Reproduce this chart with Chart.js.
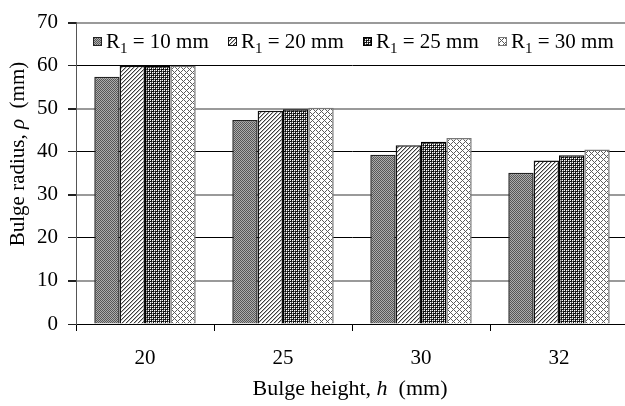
<!DOCTYPE html>
<html>
<head>
<meta charset="utf-8">
<script src="https://cdn.jsdelivr.net/npm/chart.js@4.4.1/dist/chart.umd.min.js"></script>
<style>
  body { margin: 0; width: 625px; height: 406px; overflow: hidden; position: relative; background: #fff; }
  #legend { position: absolute; left: 93px; top: 29px; display: flex; font-family: 'Liberation Serif', serif; font-size: 21px; color: #000; line-height: 24px; }
  #legend .item { width: 135px; display: flex; align-items: center; white-space: nowrap; }
  #legend canvas { margin-right: 4px; }
  #legend sub { font-size: 15px; vertical-align: -5px; line-height: 0; }
</style>
</head>
<body>
<canvas id="chart" width="628" height="406"></canvas>
<div id="legend"></div>
<script>
var heights = ['20', '25', '30', '32'];
var r1Names = ['10', '20', '25', '30'];
var r10 = [57.4, 47.4, 39.3, 35.1];
var r20 = [60.0, 49.5, 41.5, 38.0];
var r25 = [60.0, 49.9, 42.3, 39.2];
var r30 = [60.0, 50.2, 43.2, 40.5];

var serif = 'Liberation Serif';

// small pixel tiles for the hatch fills
function makeTile(size, bg, pixel) {
  var c = document.createElement('canvas');
  c.width = size; c.height = size;
  var g = c.getContext('2d');
  g.fillStyle = bg;
  g.fillRect(0, 0, size, size);
  for (var x = 0; x < size; x++) {
    for (var y = 0; y < size; y++) {
      var col = pixel(x, y);
      if (col) { g.fillStyle = col; g.fillRect(x, y, 1, 1); }
    }
  }
  return c;
}

var tiles = [
  makeTile(2, '#adadad', function(x, y) { return (x + y) % 2 == 0 ? '#575757' : null; }),
  makeTile(4, '#ffffff', function(x, y) {
    var k = (x + y) % 4;
    return k == 0 ? '#3a3a3a' : (k == 1 ? '#b8b8b8' : null);
  }),
  makeTile(4, '#111111', function(x, y) {
    return (x % 2 == 0 && y % 2 == 0) ? '#ffffff' : ((x + y) % 4 == 1 ? '#7a7a7a' : null);
  }),
  makeTile(6, '#ffffff', function(x, y) {
    return ((x - y + 6) % 6 == 0 || (x + y) % 6 == 0) ? '#5c5c5c' : null;
  })
];
var borders = ['#222', '#111', '#000', '#777'];

var ctx = document.getElementById('chart').getContext('2d');
var patterns = tiles.map(function(t) { return ctx.createPattern(t, 'repeat'); });

function drawMixed(g, parts, size, cx, cy, rot) {
  g.save();
  g.translate(cx, cy);
  g.rotate(rot);
  g.textBaseline = 'middle';
  g.fillStyle = '#000';
  var total = 0;
  parts.forEach(function(p) {
    g.font = (p[1] ? 'italic ' : '') + size + 'px "' + serif + '"';
    p.w = g.measureText(p[0]).width;
    total += p.w;
  });
  var x = -total / 2;
  parts.forEach(function(p) {
    g.font = (p[1] ? 'italic ' : '') + size + 'px "' + serif + '"';
    g.fillText(p[0], x, 0);
    x += p.w;
  });
  g.restore();
}

var axisTitles = {
  id: 'axisTitles',
  afterDraw: function(chart) {
    var a = chart.chartArea;
    drawMixed(chart.ctx, [['Bulge height, ', false], ['h', true], ['  (mm)', false]], 22, (a.left + a.right) / 2 - 2, 389, 0);
    drawMixed(chart.ctx, [['Bulge radius, ', false], ['\u03C1', true], ['  (mm)', false]], 21, 18, 154, -Math.PI / 2);
  }
};

var seriesData = [r10, r20, r25, r30];

var chart = new Chart(ctx, {
  type: 'bar',
  data: {
    labels: heights,
    datasets: seriesData.map(function(d, i) {
      return {
        label: 'R1 = ' + r1Names[i] + ' mm',
        data: d,
        backgroundColor: patterns[i],
        borderColor: borders[i],
        borderWidth: 1.5,
        borderSkipped: 'start',
        categoryPercentage: 0.735,
        barPercentage: 1.0
      };
    })
  },
  options: {
    responsive: false,
    animation: false,
    layout: { padding: { top: 17, right: 0, left: 0, bottom: 0 } },
    plugins: {
      legend: { display: false },
      tooltip: { enabled: false }
    },
    scales: {
      x: {
        grid: { offset: true, drawOnChartArea: false, tickLength: 7, color: '#000' },
        border: { color: '#000', width: 1 },
        ticks: { color: '#000', font: { family: serif, size: 21 }, padding: 15 },
        afterFit: function(s) { s.height = 82; }
      },
      y: {
        min: 0,
        max: 70,
        grid: {
          tickLength: 8,
          tickColor: '#222',
          color: function(c) { return (c.tick && c.tick.value % 20 == 10) ? '#9a9a9a' : '#000'; },
          lineWidth: function(c) { return (c.tick && c.tick.value % 20 == 10) ? 2 : 1; }
        },
        border: { color: '#555', width: 1 },
        ticks: { stepSize: 10, color: '#000', font: { family: serif, size: 21 }, padding: 10 },
        afterFit: function(s) { s.width = 76; }
      }
    }
  },
  plugins: [axisTitles]
});

// legend with real subscripts
var legend = document.getElementById('legend');
r1Names.forEach(function(n, i) {
  var item = document.createElement('div');
  item.className = 'item';
  var sw = document.createElement('canvas');
  sw.width = 9; sw.height = 9;
  var g = sw.getContext('2d');
  g.fillStyle = g.createPattern(tiles[i], 'repeat');
  g.fillRect(0, 0, 9, 9);
  g.strokeStyle = borders[i];
  g.strokeRect(0.5, 0.5, 8, 8);
  item.appendChild(sw);
  var t = document.createElement('span');
  t.innerHTML = 'R<sub>1</sub> = ' + n + ' mm';
  item.appendChild(t);
  legend.appendChild(item);
});
</script>
</body>
</html>
